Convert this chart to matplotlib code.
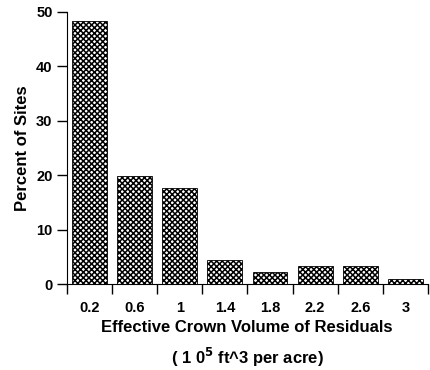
import matplotlib.pyplot as plt
import numpy as np

# datos
centros = [0.2, 0.6, 1.0, 1.4, 1.8, 2.2, 2.6, 3.0]
etiquetas = ['0.2', '0.6', '1', '1.4', '1.8', '2.2', '2.6', '3']
porcentajes = [48.3, 19.8, 17.6, 4.4, 2.2, 3.3, 3.3, 0.9]
bordes = [0.0, 0.4, 0.8, 1.2, 1.6, 2.0, 2.4, 2.8, 3.2]

plt.rcParams['font.family'] = ['Liberation Sans', 'DejaVu Sans']
plt.rcParams['font.weight'] = 'bold'
plt.rcParams['hatch.linewidth'] = 1.1

fig = plt.figure(figsize=(4.3, 3.7), dpi=100)
ax = fig.add_axes([0.156, 0.232, 0.839, 0.736])

ax.bar(centros, porcentajes, width=0.31, color='white', edgecolor='black',
       hatch='xxxxxx', linewidth=0.6)

ax.set_xlim(0, 3.2)
ax.set_ylim(0, 50)
ax.spines['top'].set_visible(False)
ax.spines['right'].set_visible(False)

# marcas en los bordes, etiquetas en los centros
ax.set_xticks(bordes)
ax.set_xticklabels([])
ax.set_xticks(centros, minor=True)
ax.set_xticklabels(etiquetas, minor=True, fontsize=10.5, fontweight='bold')
ax.tick_params(axis='x', which='major', direction='out', length=7, width=1)
ax.tick_params(axis='x', which='minor', length=0, pad=12)
ax.set_yticks([0, 10, 20, 30, 40, 50])
ax.tick_params(axis='y', direction='out', length=7, width=1, labelsize=10.5)

ax.set_ylabel('Percent of Sites', fontsize=12, fontweight='bold', labelpad=4)

# titulo del eje x en dos lineas
fig.text(0.575, 0.114, 'Effective Crown Volume of Residuals', ha='center', va='center',
         fontsize=12, fontweight='bold')
fig.text(0.575, 0.035, '( 1 0$^{\\mathbf{5}}$ ft^3 per acre)', ha='center', va='center',
         fontsize=12, fontweight='bold')

plt.savefig('out.png', dpi=100)
